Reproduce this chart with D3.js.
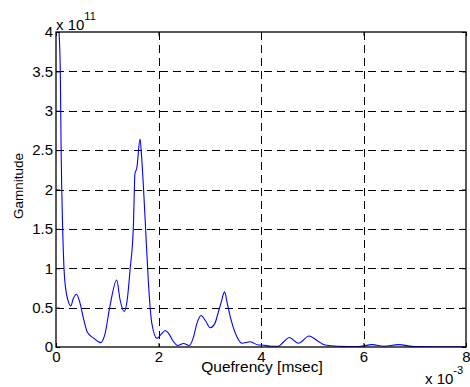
<!DOCTYPE html>
<html><head><meta charset="utf-8">
<script src="https://cdn.jsdelivr.net/npm/d3@7"></script>
<style>body{margin:0;background:#fff}svg{display:block}text{font-family:"Liberation Sans",Arial,sans-serif;fill:#000}</style>
</head><body>
<svg id="c" width="470" height="387"></svg>
<script>
// x in units of 1e-3, y in units of 1e11
const quefrency = [0,0.06,0.084,0.10,0.13,0.156,0.2,0.24,0.287,0.34,0.40,0.46,0.53,0.61,0.74,0.87,0.95,1.05,1.185,1.25,1.33,1.39,1.445,1.51,1.54,1.576,1.64,1.67,1.74,1.80,1.87,1.97,2.05,2.13,2.2,2.29,2.37,2.49,2.60,2.68,2.75,2.83,2.92,3.01,3.1,3.17,3.22,3.29,3.34,3.40,3.53,3.63,3.79,3.95,4.02,4.2,4.34,4.45,4.55,4.73,4.94,5.1,5.25,5.5,5.9,6.17,6.4,6.68,7.0,7.5,8.0];
const gamnitude = [4.9,4.0,3.5,2.5,1.5,1.0,0.69,0.58,0.52,0.62,0.67,0.58,0.38,0.19,0.11,0.055,0.15,0.51,0.85,0.6,0.45,0.6,0.98,1.53,2.2,2.27,2.64,2.42,1.61,0.85,0.30,0.11,0.16,0.21,0.17,0.07,0.02,0.045,0.02,0.12,0.30,0.40,0.33,0.245,0.3,0.45,0.56,0.70,0.56,0.385,0.13,0.047,0.067,0.025,0.025,0.01,0.01,0.07,0.12,0.047,0.14,0.08,0.025,0.01,0.005,0.03,0.01,0.03,0.005,0.003,0.003];
const xTicks = [0,2,4,6,8];
const yTicks = [0,0.5,1,1.5,2,2.5,3,3.5,4];
const xLabel = "Quefrency [msec]";
const yLabel = "Gamnitude";

const L=56,R=466,T=32,B=347;
const svg=d3.select("#c");
const x=d3.scaleLinear().domain([0,8]).range([L,R]);
const y=d3.scaleLinear().domain([0,4]).range([B,T]);

// grid
const g=svg.append("g");
g.selectAll(".gx").data(xTicks.slice(1,-1)).join("line")
 .attr("x1",d=>Math.round(x(d))+0.5).attr("x2",d=>Math.round(x(d))+0.5).attr("y1",T).attr("y2",B)
 .attr("stroke","#000").attr("stroke-dasharray","8,5");
g.selectAll(".gy").data(yTicks.slice(1,-1)).join("line")
 .attr("y1",d=>Math.round(y(d))+0.5).attr("y2",d=>Math.round(y(d))+0.5).attr("x1",L).attr("x2",R)
 .attr("stroke","#000").attr("stroke-dasharray","8,5");

// line
svg.append("clipPath").attr("id","clip").append("rect").attr("x",L).attr("y",T).attr("width",R-L).attr("height",B-T);
const pts=quefrency.map((q,i)=>[q,gamnitude[i]]);
svg.append("path").datum(pts).attr("clip-path","url(#clip)")
 .attr("fill","none").attr("stroke","#0000ff").attr("stroke-width",1.1)
 .attr("d",d3.line().x(d=>x(d[0])).y(d=>y(d[1])).curve(d3.curveMonotoneX));

// axes (inward ticks)
const fs=15;
const ax=d3.axisBottom(x).tickValues(xTicks).tickSize(-4).tickPadding(4).tickFormat(d3.format("d"));
const ay=d3.axisLeft(y).tickValues(yTicks).tickSize(-4).tickPadding(4).tickFormat(d=>d);
const gx=svg.append("g").attr("transform",`translate(0,${B})`).call(ax);
const gy=svg.append("g").attr("transform",`translate(${L},0)`).call(ay);
svg.append("g").attr("transform",`translate(0,${T})`).call(d3.axisTop(x).tickValues(xTicks).tickSize(-4).tickFormat(""));
svg.append("g").attr("transform",`translate(${R},0)`).call(d3.axisRight(y).tickValues(yTicks).tickSize(-4).tickFormat(""));
svg.selectAll(".domain").remove();
svg.selectAll(".tick line").attr("stroke","#000");
gx.selectAll("text").attr("font-size",fs).attr("font-family","Liberation Sans, Arial, sans-serif").attr("fill","#000");
gy.selectAll("text").attr("font-size",fs).attr("font-family","Liberation Sans, Arial, sans-serif").attr("fill","#000");
gy.selectAll(".tick text").attr("x",-3);

// box
svg.append("rect").attr("x",L).attr("y",T).attr("width",R-L).attr("height",B-T)
 .attr("fill","none").attr("stroke","#000").attr("stroke-width",1.3);

// labels
svg.append("text").attr("x",(L+R)/2+1).attr("y",372).attr("text-anchor","middle").attr("font-size",15.5).text(xLabel);
svg.append("text").attr("transform","translate(23,186) rotate(-90)").attr("text-anchor","middle").attr("font-size",13.5).text(yLabel);

// exponents
const e1=svg.append("text").attr("x",56).attr("y",30).attr("font-size",15);
e1.append("tspan").text("x 10");
e1.append("tspan").attr("font-size",11).attr("dy",-10).text("11");
const e2=svg.append("text").attr("x",425).attr("y",384).attr("font-size",15);
e2.append("tspan").text("x 10");
e2.append("tspan").attr("font-size",11).attr("dy",-10).text("-3");
</script>
</body></html>
